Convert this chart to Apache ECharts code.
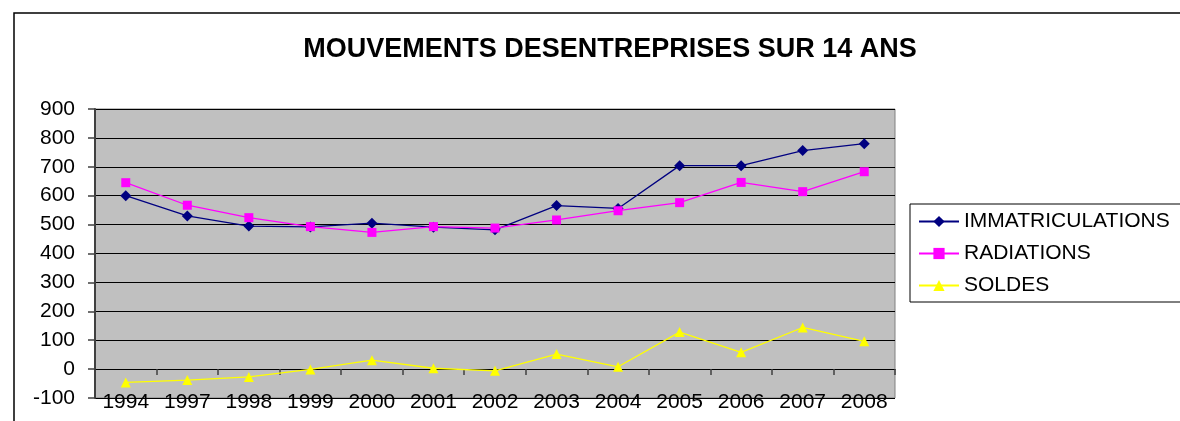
<!DOCTYPE html>
<html>
<head>
<meta charset="utf-8">
<script src="https://cdn.jsdelivr.net/npm/echarts@6/dist/echarts.min.js"></script>
<style>
  html, body { margin: 0; padding: 0; background: #fff; }
  #chart { width: 1180px; height: 421px; }
</style>
</head>
<body>
<div id="chart"></div>
<script>
// données
const years = ['1994', '1997', '1998', '1999', '2000', '2001', '2002', '2003', '2004', '2005', '2006', '2007', '2008'];
const immatriculations = [600, 530, 495, 492, 505, 491, 482, 566, 556, 704, 704, 756, 780];
const radiations = [645, 567, 524, 493, 473, 493, 488, 516, 548, 576, 646, 614, 683];
const soldes = [-46, -38, -27, -1, 31, 3, -6, 52, 8, 128, 58, 144, 96];
const yTicks = { min: -100, max: 900, step: 100 };

const chart = echarts.init(document.getElementById('chart'));
const font = 'Liberation Sans, Arial, sans-serif';

const option = {
  animation: false,
  backgroundColor: '#fff',
  title: {
    text: 'MOUVEMENTS DESENTREPRISES SUR 14 ANS',
    left: 605,
    top: 31,
    textAlign: 'center',
    textStyle: { fontFamily: font, fontSize: 27, fontWeight: 'bold', color: '#000' }
  },
  // cadre extérieur
  graphic: [{
    type: 'rect',
    shape: { x: 14, y: 13, width: 1200, height: 440 },
    style: { fill: 'none', stroke: '#000', lineWidth: 1.5 },
    silent: true
  }],
  legend: {
    orient: 'vertical',
    left: 910,
    top: 204,
    padding: [5, 40, 4, 8],
    itemGap: 7,
    itemWidth: 40,
    itemHeight: 14,
    borderColor: '#000',
    borderWidth: 1,
    backgroundColor: '#fff',
    textStyle: { fontFamily: font, fontSize: 21, color: '#000', lineHeight: 25 },
    data: ['IMMATRICULATIONS', 'RADIATIONS', 'SOLDES']
  },
  grid: {
    left: 95,
    right: 285,
    top: 109,
    bottom: 23,
    show: true,
    backgroundColor: '#C0C0C0',
    borderColor: '#808080',
    borderWidth: 1
  },
  xAxis: [
    {
      type: 'category',
      data: years,
      boundaryGap: true,
      axisLine: { show: false, onZero: false },
      axisTick: { show: false },
      axisLabel: { fontFamily: font, fontSize: 21, color: '#000', margin: -6, interval: 0 }
    },
    {
      // ligne du zéro avec graduations
      type: 'category',
      data: years,
      position: 'bottom',
      boundaryGap: true,
      axisLine: { show: true, onZero: true, lineStyle: { color: '#000', width: 1 } },
      axisTick: { show: true, length: 6, lineStyle: { color: '#404040', width: 1.5 } },
      axisLabel: { show: false }
    }
  ],
  yAxis: {
    type: 'value',
    min: yTicks.min,
    max: yTicks.max,
    interval: yTicks.step,
    axisLine: { show: true, lineStyle: { color: '#404040', width: 2 } },
    axisTick: { show: true, length: 7, lineStyle: { color: '#404040', width: 1.5 } },
    axisLabel: { fontFamily: font, fontSize: 21, color: '#000', margin: 20 },
    splitLine: { show: true, lineStyle: { color: '#000', width: 1 } }
  },
  series: [
    {
      name: 'IMMATRICULATIONS',
      type: 'line',
      data: immatriculations,
      symbol: 'diamond',
      symbolSize: 11,
      color: '#000080',
      lineStyle: { width: 1.3, color: '#000080' },
      itemStyle: { color: '#000080' },
      z: 3
    },
    {
      name: 'RADIATIONS',
      type: 'line',
      data: radiations,
      symbol: 'rect',
      symbolSize: 9,
      color: '#FF00FF',
      lineStyle: { width: 1.3, color: '#FF00FF' },
      itemStyle: { color: '#FF00FF' },
      z: 4
    },
    {
      name: 'SOLDES',
      type: 'line',
      data: soldes,
      symbol: 'triangle',
      symbolSize: 10,
      color: '#FFFF00',
      lineStyle: { width: 1.3, color: '#FFFF00' },
      itemStyle: { color: '#FFFF00' },
      z: 5
    }
  ]
};

chart.setOption(option);
</script>
</body>
</html>
